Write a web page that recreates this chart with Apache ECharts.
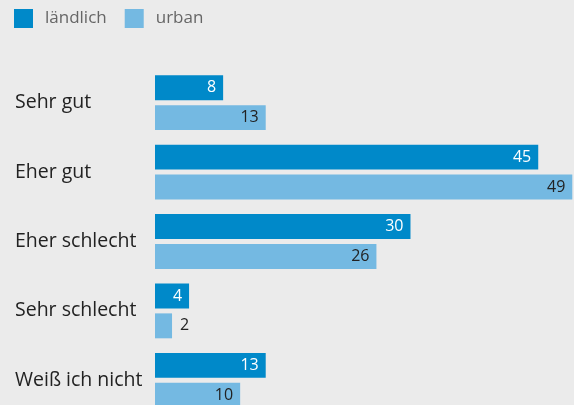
<!DOCTYPE html>
<html>
<head>
<meta charset="utf-8">
<script src="https://cdn.jsdelivr.net/npm/echarts@6/dist/echarts.min.js"></script>
<style>
  html, body { margin: 0; padding: 0; background: #ebebeb; }
  #chart { width: 574px; height: 405px; }
</style>
</head>
<body>
<div id="chart"></div>
<script>
var categories = ['Sehr gut', 'Eher gut', 'Eher schlecht', 'Sehr schlecht', 'Weiß ich nicht'];
var laendlich = [8, 45, 30, 4, 13];
var urban = [13, 49, 26, 2, 10];

var font = 'Open Sans';

function toData(values) {
  return values.map(function (v) {
    // too short for an inside label, put it next to the bar
    if (v < 3) {
      return { value: v, label: { position: 'right', distance: 8, color: '#222' } };
    }
    return v;
  });
}

var chart = echarts.init(document.getElementById('chart'));
chart.setOption({
  backgroundColor: '#ebebeb',
  animation: false,
  textStyle: { fontFamily: font },
  legend: {
    left: 14,
    top: 9,
    padding: 0,
    itemWidth: 19,
    itemHeight: 19,
    itemGap: 18,
    icon: 'rect',
    textStyle: { fontSize: 17, color: '#666', fontFamily: font, padding: [0, 0, 0, 7] }
  },
  grid: {
    left: 155,
    top: 68,
    width: 419,
    height: 347,
    outerBoundsMode: 'none'
  },
  xAxis: {
    type: 'value',
    min: 0,
    max: 49.2,
    show: false
  },
  yAxis: {
    type: 'category',
    data: categories,
    inverse: true,
    axisLine: { show: false },
    axisTick: { show: false },
    axisLabel: {
      align: 'left',
      margin: 140,
      fontSize: 19.5,
      color: '#222',
      fontFamily: font
    }
  },
  series: [{
    name: 'ländlich',
    type: 'bar',
    data: toData(laendlich),
    itemStyle: { color: '#0089c9' },
    barGap: '20%',
    barCategoryGap: '21%',
    label: {
      show: true,
      position: 'insideRight',
      distance: 7,
      color: '#fff',
      fontSize: 16,
      fontFamily: font
    }
  }, {
    name: 'urban',
    type: 'bar',
    data: toData(urban),
    itemStyle: { color: '#74b9e2' },
    barGap: '20%',
    barCategoryGap: '21%',
    label: {
      show: true,
      position: 'insideRight',
      distance: 7,
      color: '#222',
      fontSize: 16,
      fontFamily: font
    }
  }]
});
</script>
</body>
</html>
